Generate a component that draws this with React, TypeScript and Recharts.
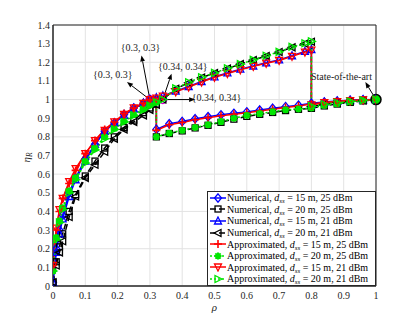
import React from "react";
import {
  LineChart,
  Line,
  XAxis,
  YAxis,
  CartesianGrid,
  Legend,
  ReferenceArea,
  ReferenceDot,
  ReferenceLine,
} from "recharts";

// shared ρ grids
const rhoRise = [0, 0.01, 0.02, 0.03, 0.05, 0.07, 0.1, 0.13, 0.16, 0.19, 0.22, 0.25, 0.28, 0.3];
const rhoLower = [0.32, 0.32, 0.36, 0.4, 0.44, 0.48, 0.52, 0.56, 0.6, 0.64, 0.68, 0.72, 0.76, 0.8, 0.84, 0.88, 0.92, 0.96, 1];
const rhoUpper = [0.32, 0.34, 0.38, 0.42, 0.46, 0.5, 0.54, 0.58, 0.62, 0.66, 0.7, 0.74, 0.78, 0.8, 0.8, 0.84, 0.88, 0.92, 0.96, 1];

// η_R values (rise part + branch part)
const num15_25 = [0.02, 0.2, 0.3, 0.38, 0.5, 0.58, 0.68, 0.76, 0.83, 0.875, 0.92, 0.955, 0.98, 1.0,
  1.0, 0.84, 0.87, 0.882, 0.897, 0.908, 0.918, 0.926, 0.934, 0.944, 0.953, 0.962, 0.97, 0.98, 0.987, 0.992, 0.996, 0.999, 1.0];
const num20_25 = [0.02, 0.13, 0.21, 0.28, 0.4, 0.49, 0.59, 0.67, 0.74, 0.8, 0.85, 0.89, 0.93, 0.955,
  0.975, 0.8, 0.818, 0.832, 0.848, 0.862, 0.878, 0.895, 0.91, 0.921, 0.931, 0.941, 0.948, 0.953, 0.966, 0.976, 0.985, 0.993, 1.0];
const num15_21 = [0.02, 0.18, 0.28, 0.36, 0.48, 0.57, 0.67, 0.76, 0.83, 0.875, 0.915, 0.95, 0.98, 1.0,
  1.01, 1.02, 1.045, 1.07, 1.097, 1.122, 1.143, 1.163, 1.18, 1.197, 1.213, 1.235, 1.258, 1.268, 0.975, 0.985, 0.99, 0.995, 0.998, 1.0];
const num20_21 = [0.02, 0.11, 0.18, 0.24, 0.37, 0.48, 0.58, 0.65, 0.72, 0.79, 0.84, 0.88, 0.915, 0.945,
  0.972, 1.0, 1.058, 1.09, 1.118, 1.142, 1.166, 1.19, 1.212, 1.234, 1.255, 1.28, 1.3, 1.31, 0.963, 0.974, 0.982, 0.99, 0.996, 1.0];
const app15_25 = [0.11, 0.3, 0.4, 0.47, 0.55, 0.62, 0.71, 0.78, 0.84, 0.88, 0.925, 0.955, 0.98, 1.0,
  0.995, 0.835, 0.865, 0.877, 0.892, 0.903, 0.913, 0.921, 0.929, 0.939, 0.948, 0.957, 0.966, 0.976, 0.984, 0.99, 0.995, 0.998, 1.0];
const app20_25 = [0.08, 0.26, 0.35, 0.42, 0.51, 0.58, 0.67, 0.74, 0.8, 0.845, 0.885, 0.92, 0.95, 0.97,
  0.985, 0.8, 0.82, 0.835, 0.85, 0.865, 0.882, 0.9, 0.915, 0.925, 0.935, 0.945, 0.95, 0.955, 0.968, 0.978, 0.987, 0.995, 1.0];
const app15_21 = [0.11, 0.31, 0.41, 0.47, 0.56, 0.63, 0.71, 0.78, 0.835, 0.88, 0.92, 0.955, 0.98, 1.0,
  1.008, 1.018, 1.042, 1.067, 1.094, 1.12, 1.14, 1.16, 1.178, 1.195, 1.21, 1.232, 1.255, 1.265, 0.972, 0.983, 0.989, 0.994, 0.998, 1.0];
const app20_21 = [0.08, 0.25, 0.34, 0.41, 0.5, 0.57, 0.66, 0.73, 0.79, 0.84, 0.88, 0.915, 0.945, 0.968,
  0.985, 1.0, 1.06, 1.093, 1.12, 1.143, 1.168, 1.19, 1.213, 1.235, 1.256, 1.283, 1.302, 1.312, 0.965, 0.975, 0.983, 0.99, 0.996, 1.0];

const xTicks = [0, 0.1, 0.2, 0.3, 0.4, 0.5, 0.6, 0.7, 0.8, 0.9, 1];
const yTicks = [0, 0.1, 0.2, 0.3, 0.4, 0.5, 0.6, 0.7, 0.8, 0.9, 1, 1.1, 1.2, 1.3, 1.4];

const FONT = '"Liberation Serif", "Times New Roman", serif';
const BLUE = "#0000ff";
const BLACK = "#000000";
const RED = "#ff0000";
const GREEN = "#00e600";

const zip = (xs: number[], ys: number[]) => xs.map((x, i) => ({ rho: x, eta: ys[i] }));

const series = [
  { kind: "Numerical", d: 15, p: 25, color: BLUE, dash: undefined, shape: "diamond", data: zip([...rhoRise, ...rhoLower], num15_25) },
  { kind: "Numerical", d: 20, p: 25, color: BLACK, dash: "6 3", shape: "square", data: zip([...rhoRise, ...rhoLower], num20_25) },
  { kind: "Numerical", d: 15, p: 21, color: BLUE, dash: undefined, shape: "up", data: zip([...rhoRise, ...rhoUpper], num15_21) },
  { kind: "Numerical", d: 20, p: 21, color: BLACK, dash: "6 3", shape: "left", data: zip([...rhoRise, ...rhoUpper], num20_21) },
  { kind: "Approximated", d: 15, p: 25, color: RED, dash: undefined, shape: "plus", data: zip([...rhoRise, ...rhoLower], app15_25) },
  { kind: "Approximated", d: 20, p: 25, color: GREEN, dash: "2 2", shape: "star", data: zip([...rhoRise, ...rhoLower], app20_25) },
  { kind: "Approximated", d: 15, p: 21, color: RED, dash: undefined, shape: "down", data: zip([...rhoRise, ...rhoUpper], app15_21) },
  { kind: "Approximated", d: 20, p: 21, color: GREEN, dash: "2 2", shape: "right", data: zip([...rhoRise, ...rhoUpper], app20_21) },
];

const annotations = [
  { from: [0.3, 1.0], to: [0.274, 1.237], text: "{0.3, 0.3}", at: [0.271, 1.28] },
  { from: [0.3, 1.0], to: [0.229, 1.094], text: "{0.3, 0.3}", at: [0.185, 1.135] },
  { from: [0.34, 1.0], to: [0.367, 1.139], text: "{0.34, 0.34}", at: [0.402, 1.18] },
  { from: [0.34, 1.0], to: [0.44, 1.0], text: "{0.34, 0.34}", at: [0.506, 1.01] },
  { from: [1.0, 1.0], to: [0.967, 1.094], text: "State-of-the-art", at: [0.893, 1.125] },
];

function Marker({ cx, cy, shape, color }: any) {
  const s = 3.5;
  const common = { stroke: color, strokeWidth: 1.3, fill: "none" };
  switch (shape) {
    case "diamond":
      return <polygon {...common} points={`${cx},${cy - s - 0.7} ${cx + s},${cy} ${cx},${cy + s + 0.7} ${cx - s},${cy}`} />;
    case "square":
      return <rect {...common} x={cx - s + 0.5} y={cy - s + 0.5} width={2 * s - 1} height={2 * s - 1} />;
    case "up":
      return <polygon {...common} points={`${cx},${cy - s - 0.5} ${cx + s},${cy + s - 0.5} ${cx - s},${cy + s - 0.5}`} />;
    case "down":
      return <polygon {...common} points={`${cx},${cy + s + 0.5} ${cx + s},${cy - s + 0.5} ${cx - s},${cy - s + 0.5}`} />;
    case "left":
      return <polygon {...common} points={`${cx - s - 0.5},${cy} ${cx + s - 0.5},${cy - s} ${cx + s - 0.5},${cy + s}`} />;
    case "right":
      return <polygon {...common} points={`${cx + s + 0.5},${cy} ${cx - s + 0.5},${cy - s} ${cx - s + 0.5},${cy + s}`} />;
    case "plus":
      return <path {...common} strokeWidth={1.6} d={`M${cx - s - 0.5},${cy}H${cx + s + 0.5}M${cx},${cy - s - 0.5}V${cy + s + 0.5}`} />;
    case "star": {
      const t = s * 0.75;
      return (
        <path {...common} strokeWidth={2}
          d={`M${cx - s},${cy}H${cx + s}M${cx},${cy - s}V${cy + s}M${cx - t},${cy - t}L${cx + t},${cy + t}M${cx - t},${cy + t}L${cx + t},${cy - t}`} />
      );
    }
    default:
      return null;
  }
}

function Arrow(props: any) {
  const { x1, y1, x2, y2 } = props;
  if ([x1, y1, x2, y2].some((v) => typeof v !== "number" || isNaN(v))) return null;
  const a = Math.atan2(y2 - y1, x2 - x1);
  const L = 6;
  const W = 2.4;
  const bx = x2 - L * Math.cos(a);
  const by = y2 - L * Math.sin(a);
  const px = -Math.sin(a) * W;
  const py = Math.cos(a) * W;
  return (
    <g>
      <line x1={x1} y1={y1} x2={bx} y2={by} stroke="#000" strokeWidth={1} />
      <polygon points={`${x2},${y2} ${bx + px},${by + py} ${bx - px},${by - py}`} fill="#000" />
    </g>
  );
}

function LegendBox() {
  return (
    <div
      style={{
        boxSizing: "border-box",
        width: 169,
        height: 95,
        border: "1px solid #262626",
        background: "#fff",
        fontFamily: FONT,
        fontSize: 10,
        color: "#000",
        padding: "0 0 0 1px",
      }}
    >
      {series.map((s, i) => (
        <div key={i} style={{ display: "flex", alignItems: "center", height: 11.6, whiteSpace: "nowrap", lineHeight: "11px" }}>
          <svg width={18} height={10} style={{ flex: "none" }}>
            <line x1={1} y1={5} x2={17} y2={5} stroke={s.color} strokeWidth={1.5} strokeDasharray={s.dash} />
            <Marker cx={9} cy={5} shape={s.shape} color={s.color} />
          </svg>
          <span>
            {s.kind}, <i>d</i>
            <sub style={{ fontSize: 7, fontStyle: "italic", verticalAlign: "-2px", lineHeight: 0 }}>ss</sub> = {s.d} m, {s.p} dBm
          </span>
        </div>
      ))}
    </div>
  );
}

const fmt = (v: number) => String(+v.toFixed(1));

export default function App() {
  return (
    <div style={{ position: "absolute", left: 0, top: 0, width: 415, height: 322, background: "#fff" }}>
      <LineChart width={415} height={322} margin={{ top: 25, right: 39, bottom: 0, left: 0 }}>
        <CartesianGrid stroke="#e3e3e3" strokeWidth={1} />
        <XAxis
          type="number"
          dataKey="rho"
          domain={[0, 1]}
          ticks={xTicks}
          tickFormatter={fmt}
          allowDataOverflow
          height={36}
          tickSize={0}
          tickMargin={6}
          axisLine={{ stroke: "#262626" }}
          tick={{ fontSize: 10, fontFamily: FONT, fill: "#262626" }}
          label={{
            content: (p: any) => {
              const vb = p.viewBox || {};
              return (
                <text x={vb.x + vb.width / 2} y={vb.y + 25} textAnchor="middle" fontFamily={FONT} fontStyle="italic" fontSize={11} fill="#262626">
                  ρ
                </text>
              );
            },
          }}
        />
        <YAxis
          type="number"
          dataKey="eta"
          domain={[0, 1.4]}
          ticks={yTicks}
          tickFormatter={fmt}
          allowDataOverflow
          width={53}
          tickSize={0}
          tickMargin={3}
          axisLine={{ stroke: "#262626" }}
          tick={{ fontSize: 10, fontFamily: FONT, fill: "#262626" }}
          label={{
            content: (p: any) => {
              const vb = p.viewBox || {};
              const cx = vb.x + 30;
              const cy = vb.y + vb.height / 2 + 2;
              return (
                <text x={cx} y={cy} transform={`rotate(-90 ${cx} ${cy})`} textAnchor="middle" fontFamily={FONT} fontSize={11} fill="#262626">
                  <tspan fontStyle="italic">η</tspan>
                  <tspan fontStyle="italic" fontSize={7.5} dy={2}>R</tspan>
                </text>
              );
            },
          }}
        />
        <ReferenceArea x1={0} x2={1} y1={0} y2={1.4} fill="none" fillOpacity={0} stroke="#262626" strokeWidth={1} />
        {series.map((s, i) => (
          <Line
            key={i}
            data={s.data}
            dataKey="eta"
            type="linear"
            stroke={s.color}
            strokeWidth={1.5}
            strokeDasharray={s.dash}
            isAnimationActive={false}
            legendType="none"
            dot={(p: any) => <Marker key={`m${i}-${p.index}`} cx={p.cx} cy={p.cy} shape={s.shape} color={s.color} />}
            activeDot={false}
          />
        ))}
        {annotations.map((a, i) => (
          <ReferenceLine
            key={`a${i}`}
            segment={[{ x: a.from[0], y: a.from[1] }, { x: a.to[0], y: a.to[1] }]}
            stroke="#000"
            ifOverflow="visible"
            shape={Arrow}
          />
        ))}
        {annotations.map((a, i) => (
          <ReferenceDot
            key={`t${i}`}
            x={a.at[0]}
            y={a.at[1]}
            r={0}
            ifOverflow="visible"
            shape={(p: any) => (
              <text x={p.cx} y={p.cy} textAnchor="middle" dominantBaseline="central" fontFamily={FONT} fontSize={10} fill="#1a1a1a">
                {a.text}
              </text>
            )}
          />
        ))}
        <ReferenceDot x={0.3} y={1} r={4} fill="none" stroke="#cc00cc" strokeWidth={1.2} ifOverflow="visible" />
        <ReferenceDot x={0.34} y={1} r={4} fill="none" stroke="#cc00cc" strokeWidth={1.2} ifOverflow="visible" />
        <ReferenceDot x={1} y={1} r={5} fill={GREEN} stroke="#000" strokeWidth={1.5} ifOverflow="visible" />
        <Legend
          layout="vertical"
          align="center"
          verticalAlign="middle"
          content={() => <LegendBox />}
          wrapperStyle={{ left: 207, top: 191, width: 169, height: 95 }}
        />
      </LineChart>
    </div>
  );
}
